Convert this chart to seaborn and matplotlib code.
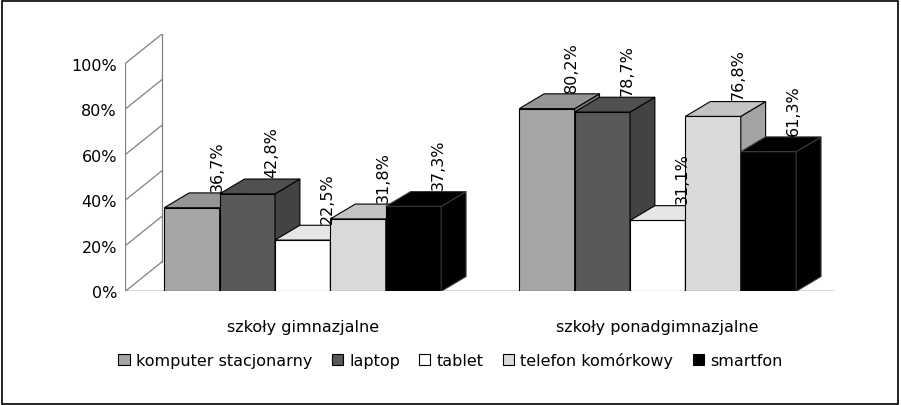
import matplotlib
matplotlib.use("Agg")
import matplotlib.pyplot as plt
from matplotlib.patches import Polygon, Rectangle
import pandas as pd
import seaborn as sns

categories = ["szkoły gimnazjalne", "szkoły ponadgimnazjalne"]
devices = ["komputer stacjonarny", "laptop", "tablet", "telefon komórkowy", "smartfon"]
gimn = [36.7, 42.8, 22.5, 31.8, 37.3]
ponad = [80.2, 78.7, 31.1, 76.8, 61.3]
colors = ["#A6A6A6", "#595959", "#FFFFFF", "#D9D9D9", "#000000"]
yticks = [0, 20, 40, 60, 80, 100]

rows = []
for d, a, b in zip(devices, gimn, ponad):
    rows.append({"cat": categories[0], "dev": d, "val": a})
    rows.append({"cat": categories[1], "dev": d, "val": b})
df = pd.DataFrame(rows)

DX, DY = 0.104, 13.0      # back wall offset (data units)
BX, BY = 0.07, 6.5        # bar depth offset


def shade(c, f):
    r, g, b = matplotlib.colors.to_rgb(c)
    return (r * f, g * f, b * f)


fig = plt.figure(figsize=(9.01, 4.06), dpi=100)
fig.patches.append(Rectangle((0.002, 0.003), 0.995, 0.993, transform=fig.transFigure,
                             fill=False, edgecolor="black", linewidth=1.2))
ax = fig.add_axes([0.139, 0.28, 0.788, 0.634])
ax.set_xlim(-0.5, 1.5 + DX)
ax.set_ylim(0, 113)

# walls: only slanted gridlines on the left wall plus the floor
x0, x1 = -0.5, 1.5
gc = "#808080"
for t in yticks:
    ax.plot([x0, x0 + DX], [t, t + DY], color=gc, lw=0.9, zorder=0)
ax.plot([x0, x0], [0, 100], color=gc, lw=0.9, zorder=0)
ax.plot([x0 + DX, x0 + DX], [DY, 100 + DY], color=gc, lw=0.9, zorder=0)
ax.plot([x0, x1, x1 + DX], [0, 0, DY], color=gc, lw=0.9, zorder=0)

sns.barplot(data=df, x="cat", y="val", hue="dev", hue_order=devices, order=categories,
            palette=colors, width=0.78, dodge=True, edgecolor="black", linewidth=0.8,
            legend=False, ax=ax)

pairs = list(zip(ax.patches, [c for c in colors for _ in categories]))
pairs.sort(key=lambda pc: pc[0].get_x())
for i, (p, c) in enumerate(pairs):
    z = 3 + i
    p.set_zorder(z)
    x, w, h = p.get_x(), p.get_width(), p.get_height()
    ec = "black" if c != "#000000" else "#3a3a3a"
    top = Polygon([(x, h), (x + BX, h + BY), (x + w + BX, h + BY), (x + w, h)],
                  facecolor=shade(c, 0.9), edgecolor=ec, lw=0.8, zorder=z)
    side = Polygon([(x + w, 0), (x + w + BX, BY), (x + w + BX, h + BY), (x + w, h)],
                   facecolor=shade(c, 0.75), edgecolor=ec, lw=0.8, zorder=z)
    ax.add_patch(side)
    ax.add_patch(top)
    ax.text(x + w / 2 + BX, h + BY + 1, f"{h:.1f}%".replace(".", ","), rotation=90,
            ha="center", va="bottom", fontsize=11.5, zorder=50)

ax.set_yticks(yticks)
ax.set_yticklabels([f"{t}%" for t in yticks], fontsize=11.5)
ax.tick_params(axis="y", length=0, pad=6)
ax.tick_params(axis="x", length=0, pad=20, labelsize=11.5)
ax.set_xlabel("")
ax.set_ylabel("")
for s in ax.spines.values():
    s.set_visible(False)

handles = [Rectangle((0, 0), 1, 1, facecolor=c, edgecolor="black", lw=0.8) for c in colors]
fig.legend(handles, devices, loc="center", bbox_to_anchor=(0.5, 0.11), ncol=5, frameon=False,
           fontsize=11.5, handlelength=0.7, handleheight=0.7, handletextpad=0.4, columnspacing=1.2)

fig.savefig("out.png", dpi=100)
